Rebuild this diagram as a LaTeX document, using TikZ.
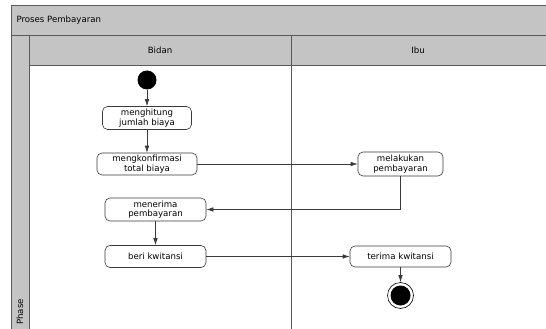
\documentclass[tikz,border=0pt]{standalone}
\usepackage{fontspec}
\setmainfont{DejaVu Sans}
\usetikzlibrary{arrows.meta}
\definecolor{barfill}{HTML}{C4C4C4}
\definecolor{frameline}{HTML}{5A5A5A}
\definecolor{flowline}{HTML}{3A3A3A}
\tikzset{
  actbox/.style={draw=flowline, fill=white, rounded corners=5pt, line width=0.6pt,
    align=center, inner sep=0pt, font=\fontsize{8.6}{9.6}\selectfont},
  flow/.style={draw=flowline, line width=0.6pt, -{Latex[length=7pt,width=4.5pt]}},
  lanetext/.style={font=\fontsize{8.6}{10}\selectfont},
}
\begin{document}
\begin{tikzpicture}[x=1pt,y=-1pt]
\useasboundingbox (0,0) rectangle (546,329);
\fill[white] (0,0) rectangle (546,329);
% swimlane frame
\fill[barfill] (11,5) rectangle (560,35);
\fill[barfill] (29,35) rectangle (560,65);
\fill[barfill] (11,35) rectangle (29,340);
\draw[frameline, line width=0.7pt] (11,340) -- (11,5) -- (560,5);
\draw[frameline, line width=0.7pt] (11,35) -- (560,35);
\draw[frameline, line width=0.7pt] (29,35) -- (29,340);
\draw[frameline, line width=0.7pt] (29,65) -- (560,65);
\draw[frameline, line width=0.7pt] (291,35) -- (291,340);
\node[lanetext, anchor=west] (title) at (13,20) {Proses Pembayaran};
\node[lanetext] (laneA) at (160,50) {Bidan};
\node[lanetext] (laneB) at (418,50) {Ibu};
\node[lanetext, rotate=90, inner sep=0pt] (phase) at (20,312) {Phase};
% activities
\node[circle, fill=black, minimum size=19pt, inner sep=0pt] (start) at (147,80) {};
\node[actbox, minimum width=89pt, minimum height=23pt] (hitung) at (147,118) {menghitung\\jumlah biaya};
\node[actbox, minimum width=100pt, minimum height=22pt] (konfirm) at (147,164) {mengkonfirmasi\\total biaya};
\node[actbox, minimum width=101pt, minimum height=23pt] (terima) at (155.5,209.5) {menerima\\pembayaran};
\node[actbox, minimum width=101pt, minimum height=22pt] (kwit) at (155.5,256.5) {beri kwitansi};
\node[actbox, minimum width=85pt, minimum height=24pt] (bayar) at (400.5,164) {melakukan\\pembayaran};
\node[actbox, minimum width=101pt, minimum height=21pt] (terimak) at (400.5,256.5) {terima kwitansi};
\node[circle, draw=black, line width=0.6pt, fill=white, minimum size=26pt, inner sep=0pt] (stop) at (400.5,295.5) {};
\node[circle, fill=black, minimum size=20pt, inner sep=0pt] (stopdot) at (stop.center) {};
% control flow
\draw[flow] (start) -- (hitung);
\draw[flow] (hitung) -- (konfirm);
\draw[flow] (konfirm) -- (bayar);
\draw[flow] (bayar.south) |- (terima.east);
\draw[flow] (terima) -- (kwit);
\draw[flow] (kwit) -- (terimak);
\draw[flow] (terimak) -- (stop);
\end{tikzpicture}
\end{document}
